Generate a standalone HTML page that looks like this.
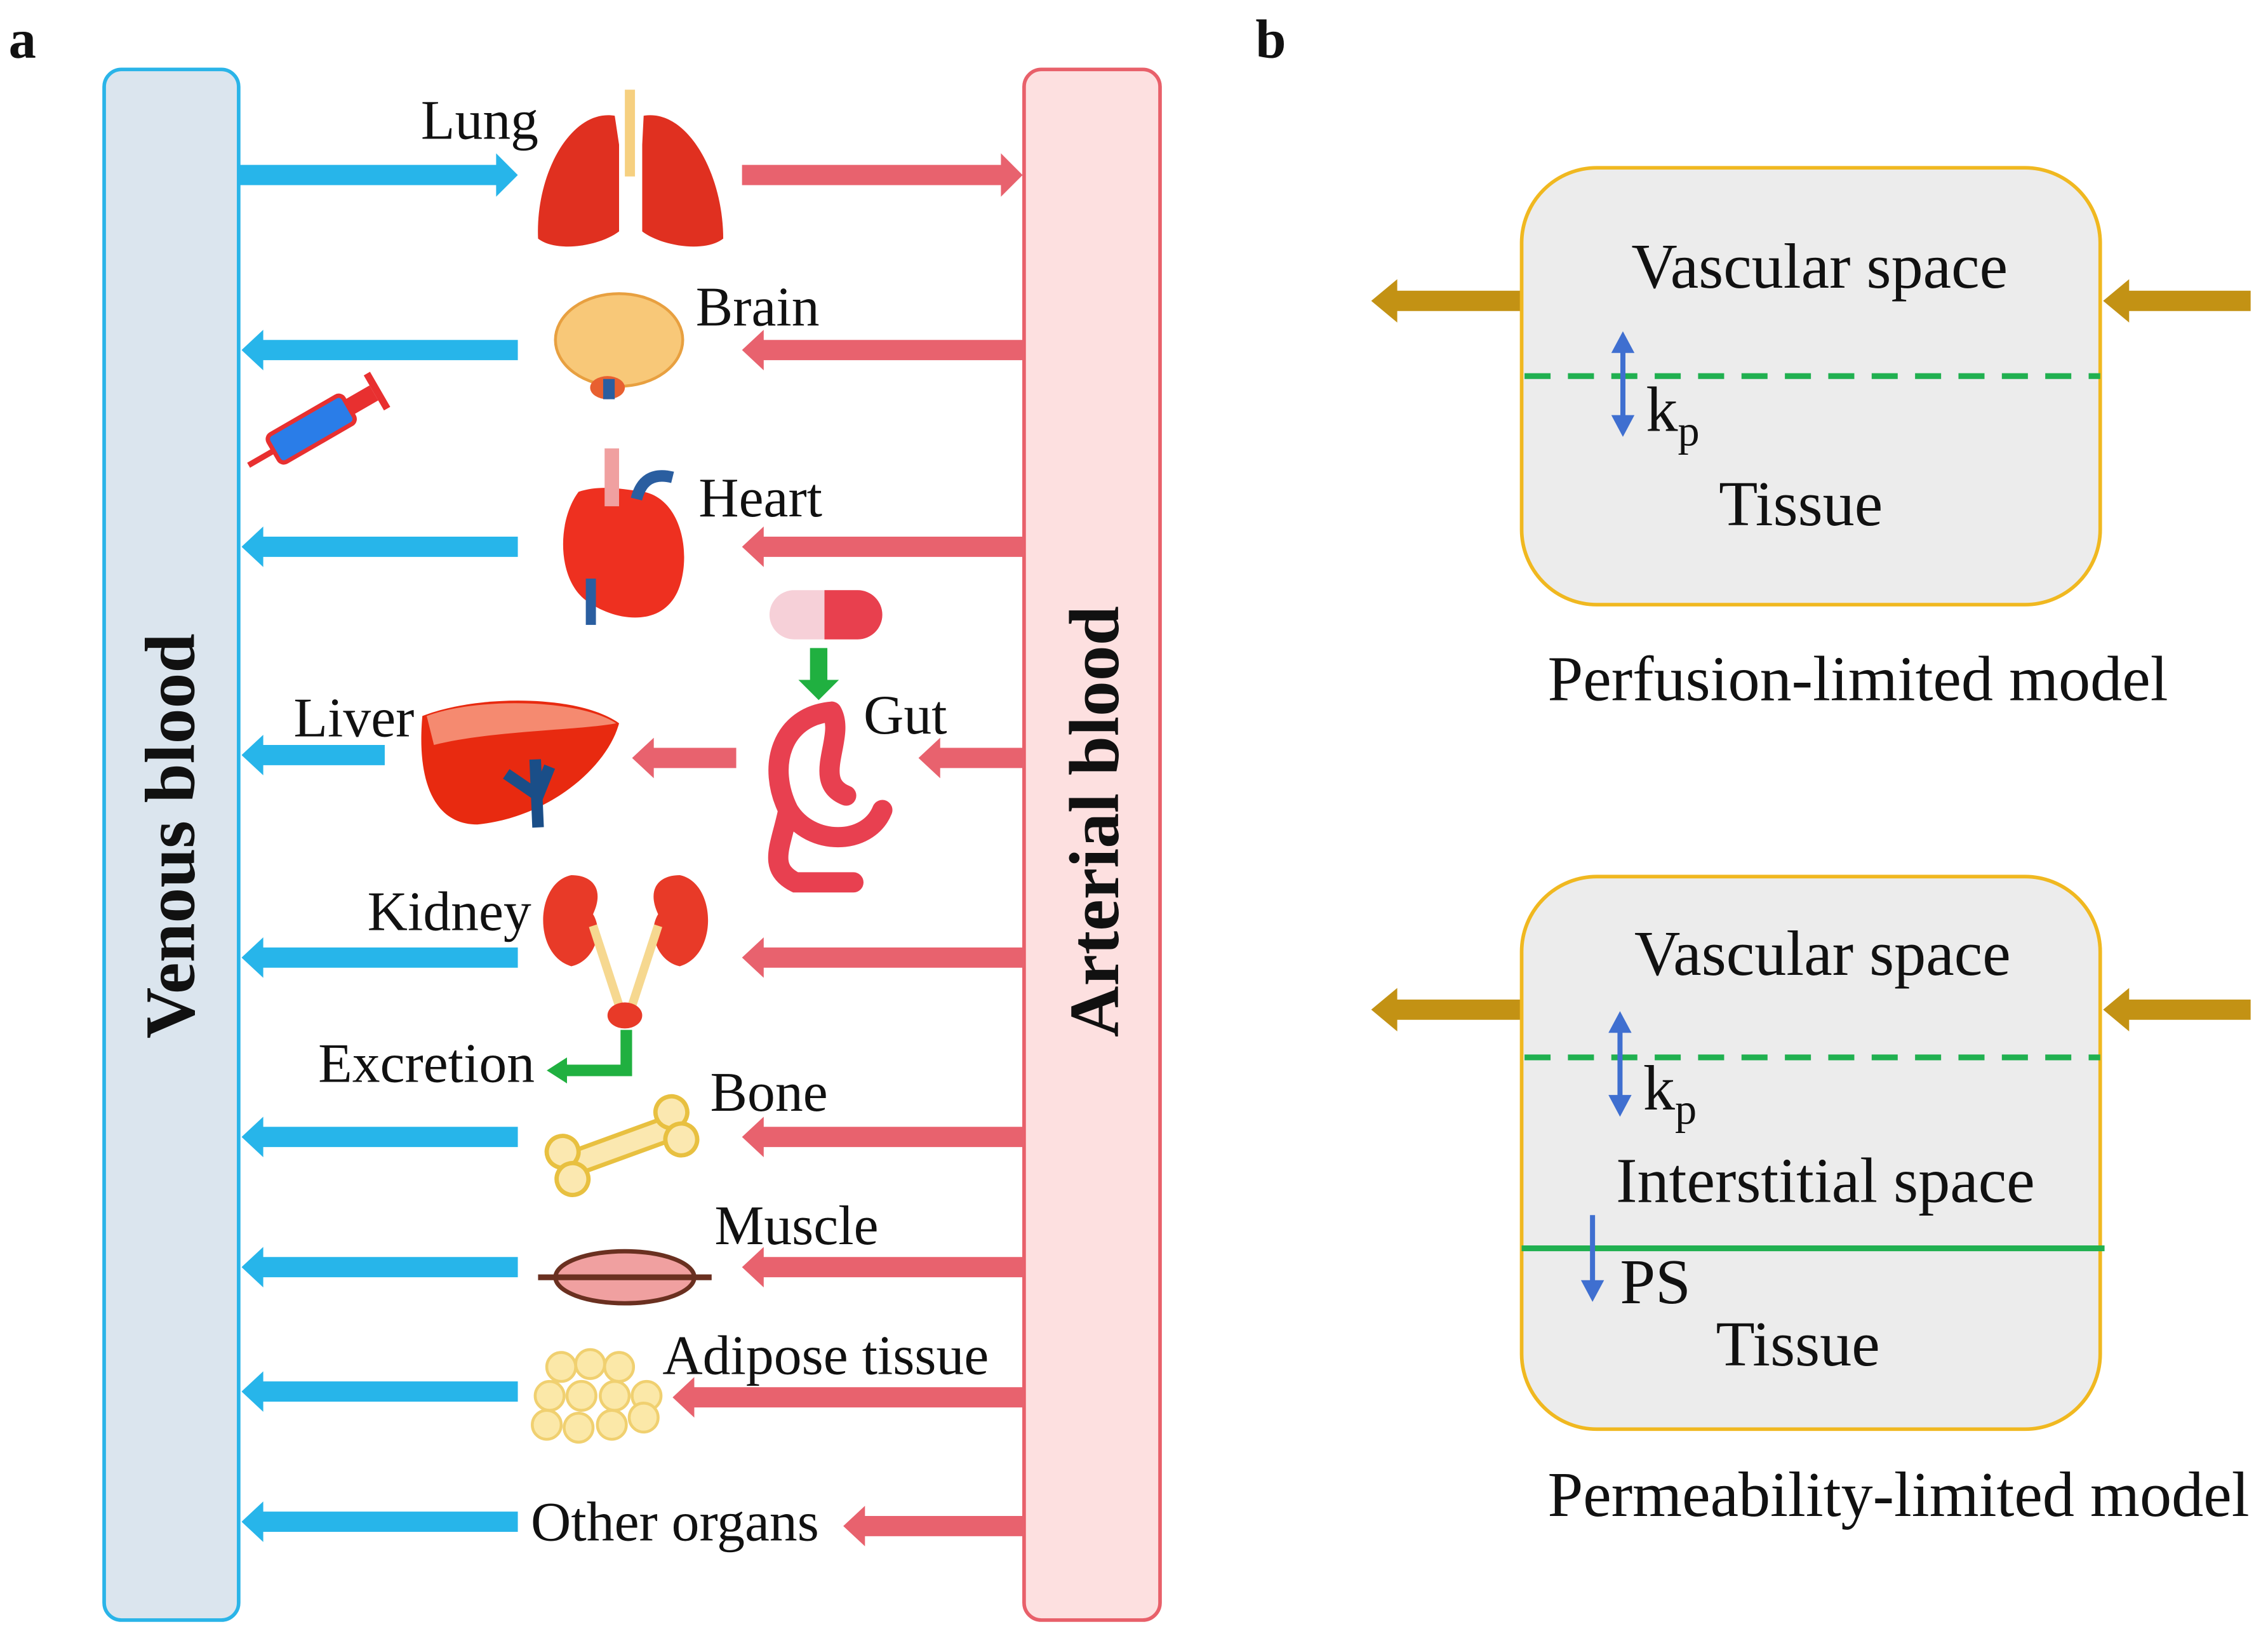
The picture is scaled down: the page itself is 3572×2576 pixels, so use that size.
<!DOCTYPE html>
<html><head><meta charset="utf-8"><style>
html,body{margin:0;padding:0;background:#fff}
svg{display:block}
text{font-family:"Liberation Serif",serif;fill:#111}
</style></head><body>
<svg width="3572" height="2576" viewBox="0 0 1568 1131" preserveAspectRatio="none" xmlns="http://www.w3.org/2000/svg">
<text x="6" y="40" font-size="38" font-weight="bold">a</text>
<text x="868" y="40" font-size="38" font-weight="bold">b</text>

<rect x="72" y="48" width="93" height="1072" rx="12" fill="#dbe5ee" stroke="#2ab4e8" stroke-width="2.5"/>
<rect x="708" y="48" width="94" height="1072" rx="12" fill="#fde0e0" stroke="#e8606a" stroke-width="2.5"/>
<text transform="translate(134,578) rotate(-90)" font-size="49" font-weight="bold" text-anchor="middle">Venous blood</text>
<text transform="translate(773,568) rotate(-90)" font-size="49" font-weight="bold" text-anchor="middle">Arterial blood</text>

<g fill="#27b5ea">
<polygon points="165,114 343,114 343,106 358,121 343,136 343,128 165,128"/>
<polygon points="358,235 182,235 182,228 167,242 182,256 182,249 358,249"/>
<polygon points="358,371 182,371 182,364 167,378 182,392 182,385 358,385"/>
<polygon points="266,515 182,515 182,508 167,522 182,536 182,529 266,529"/>
<polygon points="358,655 182,655 182,648 167,662 182,676 182,669 358,669"/>
<polygon points="358,779 182,779 182,772 167,786 182,800 182,793 358,793"/>
<polygon points="358,869 182,869 182,862 167,876 182,890 182,883 358,883"/>
<polygon points="358,955 182,955 182,948 167,962 182,976 182,969 358,969"/>
<polygon points="358,1045 182,1045 182,1038 167,1052 182,1066 182,1059 358,1059"/>
</g>
<g fill="#e8626e">
<polygon points="513,114 692,114 692,106 707,121 692,136 692,128 513,128"/>
<polygon points="708,235 528,235 528,228 513,242 528,256 528,249 708,249"/>
<polygon points="708,371 528,371 528,364 513,378 528,392 528,385 708,385"/>
<polygon points="708,517 650,517 650,510 635,524 650,538 650,531 708,531"/>
<polygon points="509,517 452,517 452,510 437,524 452,538 452,531 509,531"/>
<polygon points="708,655 528,655 528,648 513,662 528,676 528,669 708,669"/>
<polygon points="708,779 528,779 528,772 513,786 528,800 528,793 708,793"/>
<polygon points="708,869 528,869 528,862 513,876 528,890 528,883 708,883"/>
<polygon points="708,959 480,959 480,952 465,966 480,980 480,973 708,973"/>
<polygon points="708,1048 598,1048 598,1041 583,1055 598,1069 598,1062 708,1062"/>
</g>

<g font-size="38.5">
<text x="291" y="96">Lung</text>
<text x="481" y="225">Brain</text>
<text x="483" y="357">Heart</text>
<text x="203" y="509">Liver</text>
<text x="597" y="507">Gut</text>
<text x="254" y="643">Kidney</text>
<text x="220" y="748">Excretion</text>
<text x="491" y="768">Bone</text>
<text x="494" y="860">Muscle</text>
<text x="458" y="950">Adipose tissue</text>
<text x="367" y="1065">Other organs</text>
</g>

<path d="M425,80 C395,75 370,120 372,165 C385,175 415,170 428,160 L428,100 Z" fill="#e03020"/>
<path d="M445,80 C475,75 500,120 500,165 C487,175 457,170 444,160 L444,100 Z" fill="#e03020"/>
<rect x="432" y="62" width="7" height="60" fill="#f6d080"/>
<ellipse cx="428" cy="235" rx="44" ry="32" fill="#f8c878" stroke="#e8a040" stroke-width="2"/>
<ellipse cx="420" cy="268" rx="12" ry="8" fill="#e86030"/>
<rect x="417" y="262" width="8" height="14" fill="#2a5ea0"/>
<g transform="rotate(-30 220 295)">
<rect x="185" y="283" width="60" height="22" rx="4" fill="#2a7de8" stroke="#e83030" stroke-width="3"/>
<rect x="245" y="288" width="20" height="12" fill="#e83030"/>
<rect x="265" y="280" width="5" height="28" fill="#e83030"/>
<line x1="185" y1="294" x2="165" y2="294" stroke="#e83030" stroke-width="4"/>
</g>
<path d="M400,340 C385,360 385,400 405,415 C425,430 460,435 470,405 C478,380 470,345 445,340 C430,338 415,335 400,340 Z" fill="#ee3020"/>
<rect x="418" y="310" width="10" height="40" fill="#f0a0a0"/>
<path d="M440,345 Q445,325 465,330" stroke="#2a5ea0" stroke-width="8" fill="none"/>
<rect x="405" y="400" width="7" height="32" fill="#2a5ea0"/>
<rect x="532" y="408" width="78" height="34" rx="17" fill="#f6d0d8"/>
<path d="M570,408 L593,408 A17,17 0 0 1 593,442 L570,442 Z" fill="#e8404e"/>
<polygon points="560,448 572,448 572,470 580,470 566,484 552,470 560,470" fill="#20b040"/>
<path d="M575,492 C540,495 530,530 545,560 C560,585 600,585 610,560 M575,492 C585,510 560,540 585,550 M545,560 C540,585 530,600 550,610 L590,610" stroke="#e84050" stroke-width="14" fill="none" stroke-linecap="round"/>
<path d="M292,495 C330,480 400,480 428,500 C420,530 380,565 330,570 C300,570 288,540 292,495 Z" fill="#e82a10"/>
<path d="M295,495 C330,482 400,483 426,500 C400,505 340,505 300,515 Z" fill="#f58a70"/>
<path d="M370,525 L372,572 M350,535 L372,550 L380,530" stroke="#1a4e88" stroke-width="8" fill="none"/>
<path d="M395,605 C370,610 368,660 395,668 C410,665 418,645 410,632 C418,615 410,605 395,605 Z" fill="#e83a28"/>
<path d="M470,605 C495,610 497,660 470,668 C455,665 447,645 455,632 C447,615 455,605 470,605 Z" fill="#e83a28"/>
<path d="M410,640 L428,695 M455,640 L437,695" stroke="#f6d890" stroke-width="6" fill="none"/>
<ellipse cx="432" cy="702" rx="12" ry="9" fill="#e83a28"/>
<path d="M433,712 L433,740 L385,740" stroke="#20b040" stroke-width="8" fill="none"/>
<polygon points="378,740 392,731 392,749" fill="#20b040"/>
<g transform="rotate(-20 430 792)">
<rect x="395" y="784" width="70" height="16" fill="#fbe8b0" stroke="#e8c040" stroke-width="3"/>
<circle cx="390" cy="782" r="11" fill="#fbe8b0" stroke="#e8c040" stroke-width="3"/>
<circle cx="390" cy="802" r="11" fill="#fbe8b0" stroke="#e8c040" stroke-width="3"/>
<circle cx="470" cy="782" r="11" fill="#fbe8b0" stroke="#e8c040" stroke-width="3"/>
<circle cx="470" cy="802" r="11" fill="#fbe8b0" stroke="#e8c040" stroke-width="3"/>
</g>
<ellipse cx="432" cy="883" rx="48" ry="18" fill="#f0a0a0" stroke="#6a3020" stroke-width="3"/>
<line x1="372" y1="883" x2="492" y2="883" stroke="#6a3020" stroke-width="4"/>
<g fill="#fbe8a8" stroke="#f0d070" stroke-width="2">
<circle cx="388" cy="945" r="10"/><circle cx="408" cy="943" r="10"/><circle cx="428" cy="945" r="10"/>
<circle cx="380" cy="965" r="10"/><circle cx="402" cy="965" r="10"/><circle cx="425" cy="965" r="10"/><circle cx="447" cy="965" r="10"/>
<circle cx="378" cy="985" r="10"/><circle cx="400" cy="987" r="10"/><circle cx="423" cy="985" r="10"/><circle cx="445" cy="980" r="10"/>
</g>

<g fill="#c39214">
<polygon points="1052,201 966,201 966,193 948,208 966,223 966,215 1052,215"/>
<polygon points="1556,201 1472,201 1472,193 1454,208 1472,223 1472,215 1556,215"/>
<polygon points="1052,691 966,691 966,683 948,698 966,713 966,705 1052,705"/>
<polygon points="1556,691 1472,691 1472,683 1454,698 1472,713 1472,705 1556,705"/>
</g>
<rect x="1052" y="116" width="400" height="302" rx="52" fill="#ececec" stroke="#f0b820" stroke-width="2.5"/>
<rect x="1052" y="606" width="400" height="382" rx="52" fill="#ececec" stroke="#f0b820" stroke-width="2.5"/>
<line x1="1054" y1="260" x2="1452" y2="260" stroke="#20b050" stroke-width="4" stroke-dasharray="18,12"/>
<line x1="1054" y1="731" x2="1452" y2="731" stroke="#20b050" stroke-width="4" stroke-dasharray="18,12"/>
<line x1="1052" y1="863" x2="1455" y2="863" stroke="#20b050" stroke-width="4"/>
<g fill="#3f6fd0" stroke="#3f6fd0" stroke-width="3.5">
<line x1="1122" y1="242" x2="1122" y2="290"/>
<polygon points="1122,229 1114,244 1130,244" stroke="none"/>
<polygon points="1122,302 1114,287 1130,287" stroke="none"/>
<line x1="1120" y1="712" x2="1120" y2="760"/>
<polygon points="1120,699 1112,714 1128,714" stroke="none"/>
<polygon points="1120,772 1112,757 1128,757" stroke="none"/>
<line x1="1101" y1="840" x2="1101" y2="888"/>
<polygon points="1101,900 1093,885 1109,885" stroke="none"/>
</g>
<g font-size="44" text-anchor="middle">
<text x="1258" y="199">Vascular space</text>
<text x="1245" y="363">Tissue</text>
<text x="1260" y="674">Vascular space</text>
<text x="1262" y="831">Interstitial space</text>
<text x="1243" y="944">Tissue</text>
</g>
<text x="1138" y="298" font-size="44">k<tspan font-size="30" dy="10">p</tspan></text>
<text x="1136" y="767" font-size="44">k<tspan font-size="30" dy="10">p</tspan></text>
<text x="1120" y="901" font-size="44">PS</text>
<text x="1070" y="484" font-size="44">Perfusion-limited model</text>
<text x="1070" y="1048" font-size="44">Permeability-limited model</text>
</svg>
</body></html>
